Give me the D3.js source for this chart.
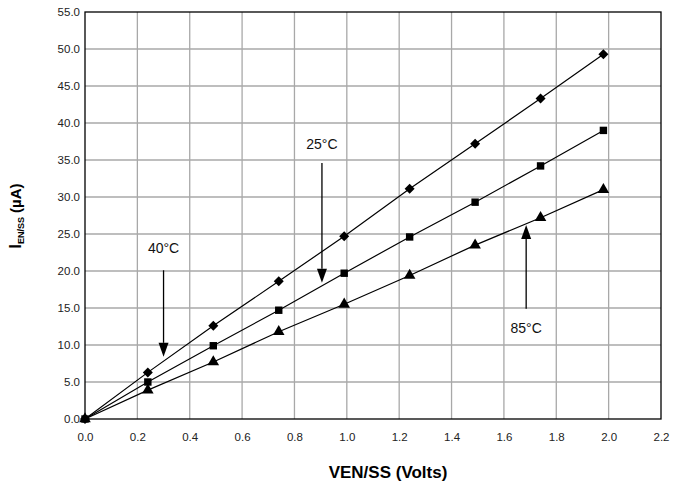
<!DOCTYPE html>
<html>
<head>
<meta charset="utf-8">
<script src="https://cdn.jsdelivr.net/npm/d3@7"></script>
<style>
  body { margin: 0; background: #fff; }
  text { font-family: "Liberation Sans", Arial, sans-serif; }
</style>
</head>
<body>
<div id="container"></div>
<script>
/* DATA */
const volts = [0, 0.24, 0.49, 0.74, 0.99, 1.24, 1.49, 1.74, 1.98];
const i40 = [0, 6.3, 12.6, 18.6, 24.7, 31.1, 37.2, 43.3, 49.3];
const i25 = [0, 5.0, 9.9, 14.7, 19.7, 24.6, 29.3, 34.2, 39.0];
const i85 = [0, 3.9, 7.7, 11.8, 15.5, 19.4, 23.5, 27.2, 31.0];
const xTicks = [0, 0.2, 0.4, 0.6, 0.8, 1.0, 1.2, 1.4, 1.6, 1.8, 2.0, 2.2];
const yTicks = [0, 5, 10, 15, 20, 25, 30, 35, 40, 45, 50, 55];

// arrow annotations: label, x value, label baseline (current), arrow from / to (current)
const notes = [
  { label: "40°C", x: 0.30, ly: 22.5, y1: 20.1, y2: 8.4 },
  { label: "25°C", x: 0.905, ly: 36.5, y1: 34.6, y2: 18.4 },
  { label: "85°C", x: 1.685, ly: 11.6, y1: 14.9, y2: 26.2 }
];

const width = 678, height = 486,
  margin = { top: 12, right: 17, bottom: 67, left: 85 };

const svg = d3.select('#container').append('svg')
  .attr('width', width)
  .attr('height', height);

const xScale = d3.scaleLinear().domain([0, 2.2]).range([margin.left, width - margin.right]);
const yScale = d3.scaleLinear().domain([0, 55]).range([height - margin.bottom, margin.top]);

// grid
svg.append('g').selectAll('line')
  .data(xTicks.slice(1, -1))
  .join('line')
  .attr('x1', d => xScale(d)).attr('x2', d => xScale(d))
  .attr('y1', yScale(0)).attr('y2', yScale(55))
  .attr('stroke', '#a8a8a8').attr('stroke-width', 1.3);

svg.append('g').selectAll('line')
  .data(yTicks.slice(1, -1))
  .join('line')
  .attr('x1', xScale(0)).attr('x2', xScale(2.2))
  .attr('y1', d => yScale(d)).attr('y2', d => yScale(d))
  .attr('stroke', '#a8a8a8').attr('stroke-width', 1.3);

// frame
svg.append('rect')
  .attr('x', xScale(0)).attr('y', yScale(55))
  .attr('width', xScale(2.2) - xScale(0))
  .attr('height', yScale(0) - yScale(55))
  .attr('fill', 'none').attr('stroke', '#000').attr('stroke-width', 1.3);

// axes
const xAxis = d3.axisBottom(xScale).tickValues(xTicks).tickSize(0).tickPadding(14)
  .tickFormat(d3.format('.1f'));
const yAxis = d3.axisLeft(yScale).tickValues(yTicks).tickSize(0).tickPadding(5)
  .tickFormat(d3.format('.1f'));

svg.append('g')
  .attr('transform', `translate(0, ${yScale(0)})`)
  .call(xAxis)
  .call(g => g.select('.domain').remove())
  .selectAll('text').attr('font-size', 11.5).attr('fill', '#222')
  .attr('font-family', '"Liberation Sans", Arial, sans-serif');

svg.append('g')
  .attr('transform', `translate(${xScale(0)}, 0)`)
  .call(yAxis)
  .call(g => g.select('.domain').remove())
  .selectAll('text').attr('font-size', 11.5).attr('fill', '#222')
  .attr('font-family', '"Liberation Sans", Arial, sans-serif');

// axis titles
svg.append('text')
  .attr('x', 388)
  .attr('y', 478)
  .attr('text-anchor', 'middle')
  .attr('font-size', 17).attr('font-weight', 'bold')
  .text('VEN/SS (Volts)');

const yt = svg.append('text')
  .attr('transform', `translate(21, 216) rotate(-90)`)
  .attr('text-anchor', 'middle')
  .attr('font-weight', 'bold');
yt.append('tspan').attr('font-size', 16).text('I');
yt.append('tspan').attr('font-size', 9).attr('dy', 3).text('EN/SS');
yt.append('tspan').attr('font-size', 15).attr('dy', -3).text(' (µA)');

// series
const series = [
  { values: i40, shape: d3.symbolSquare, size: 50, rotate: 45 },
  { values: i25, shape: d3.symbolSquare, size: 55, rotate: 0 },
  { values: i85, shape: d3.symbolTriangle, size: 58, rotate: 0 }
];

const line = d3.line().x(d => xScale(d[0])).y(d => yScale(d[1]));

series.forEach(s => {
  const pts = volts.map((v, i) => [v, s.values[i]]);
  svg.append('path')
    .datum(pts)
    .attr('d', line)
    .attr('fill', 'none').attr('stroke', '#000').attr('stroke-width', 1.2);
  svg.append('g').selectAll('path')
    .data(pts)
    .join('path')
    .attr('transform', d => `translate(${xScale(d[0])}, ${yScale(d[1])}) rotate(${s.rotate})`)
    .attr('d', d3.symbol().type(s.shape).size(s.size))
    .attr('fill', '#000');
});

// annotations
notes.forEach(n => {
  const x = xScale(n.x);
  svg.append('text')
    .attr('x', x).attr('y', yScale(n.ly))
    .attr('text-anchor', 'middle')
    .attr('font-size', 14).attr('fill', '#111')
    .text(n.label);
  const dir = n.y2 < n.y1 ? 1 : -1; // 1 = pointing down on screen
  const yEnd = yScale(n.y2);
  const headLen = 14, headW = 5;
  svg.append('line')
    .attr('x1', x).attr('x2', x)
    .attr('y1', yScale(n.y1)).attr('y2', yEnd - dir * headLen)
    .attr('stroke', '#000').attr('stroke-width', 1.3);
  svg.append('path')
    .attr('d', `M${x},${yEnd} L${x - headW},${yEnd - dir * headLen} L${x + headW},${yEnd - dir * headLen} Z`)
    .attr('fill', '#000');
});
</script>
</body>
</html>
